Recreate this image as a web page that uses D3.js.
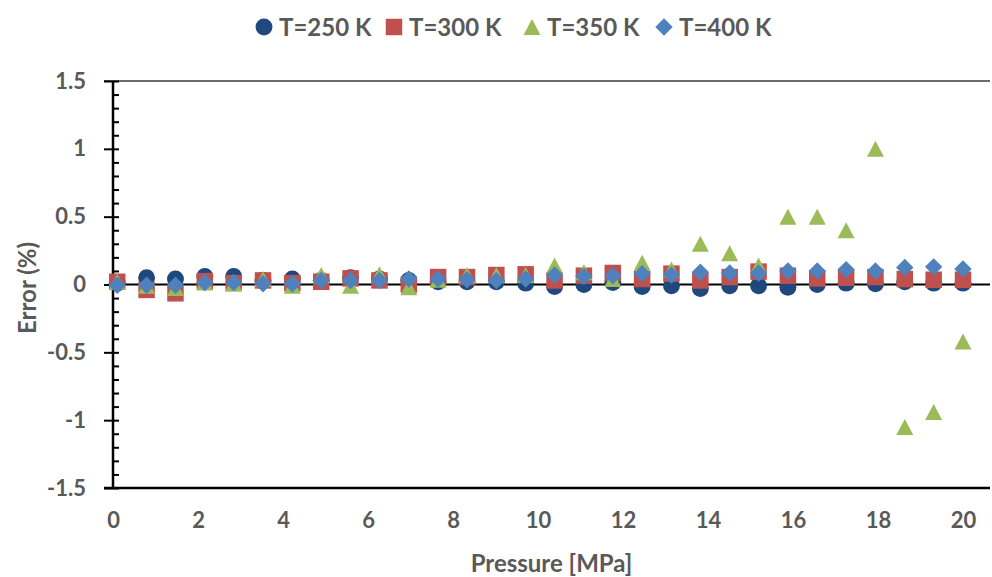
<!DOCTYPE html>
<html lang="en">
<head>
    <meta charset="UTF-8">
    <title>Error vs Pressure</title>
    <script src="https://cdn.jsdelivr.net/npm/d3@7/dist/d3.min.js"></script>
    <style>
        body { margin: 0; background: #fff; }
        text { font-family: Lato, "Open Sans", sans-serif; font-weight: bold; fill: #595959; }
    </style>
</head>
<body>
<div id="chart"></div>
<script>
    // pressure points [MPa]
    var pressure = [0.1, 0.79, 1.47, 2.16, 2.84, 3.53, 4.22, 4.90, 5.59, 6.27,
        6.96, 7.65, 8.33, 9.02, 9.71, 10.39, 11.08, 11.76, 12.45, 13.14,
        13.82, 14.51, 15.19, 15.88, 16.57, 17.25, 17.94, 18.63, 19.31, 20.0];

    // error [%] per temperature
    var err250 = [0.01, 0.05, 0.04, 0.06, 0.06, 0.03, 0.04, 0.03, 0.05, 0.04,
        0.03, 0.02, 0.02, 0.02, 0.01, -0.015, 0.0, 0.015, -0.015, -0.01,
        -0.03, -0.01, -0.01, -0.02, 0.0, 0.01, 0.005, 0.02, 0.01, 0.01];
    var err300 = [0.02, -0.04, -0.065, 0.025, 0.01, 0.03, 0.01, 0.02, 0.045, 0.03,
        0.0, 0.055, 0.055, 0.07, 0.075, 0.03, 0.065, 0.085, 0.04, 0.08,
        0.03, 0.055, 0.095, 0.065, 0.045, 0.05, 0.055, 0.04, 0.035, 0.035];
    var err350 = [0.02, -0.01, -0.025, 0.015, 0.01, 0.04, -0.01, 0.07, -0.01, 0.075,
        -0.02, 0.035, 0.07, 0.07, 0.07, 0.14, 0.09, 0.04, 0.16, 0.11,
        0.30, 0.23, 0.14, 0.50, 0.50, 0.40, 1.0, -1.05, -0.94, -0.42];
    var err400 = [-0.005, -0.005, -0.005, 0.015, 0.015, 0.005, 0.005, 0.03, 0.03, 0.03,
        0.04, 0.04, 0.035, 0.03, 0.04, 0.07, 0.06, 0.065, 0.08, 0.07,
        0.09, 0.085, 0.085, 0.10, 0.10, 0.11, 0.10, 0.125, 0.13, 0.115];

    var seriesNames = ["T=250 K", "T=300 K", "T=350 K", "T=400 K"];
    var xTicks = [0, 2, 4, 6, 8, 10, 12, 14, 16, 18, 20];
    var yTicks = [-1.5, -1, -0.5, 0, 0.5, 1, 1.5];

    var width = 992, height = 577;
    var plotLeft = 113, plotRight = 990, plotTop = 81, plotBottom = 488;

    // custom marker shapes
    var triangle = {
        draw: function (ctx, size) {
            var w = 8.5, h = 8;
            ctx.moveTo(0, -h);
            ctx.lineTo(w, h);
            ctx.lineTo(-w, h);
            ctx.closePath();
        }
    };
    var diamond = {
        draw: function (ctx, size) {
            var r = 8.7;
            ctx.moveTo(0, -r);
            ctx.lineTo(r, 0);
            ctx.lineTo(0, r);
            ctx.lineTo(-r, 0);
            ctx.closePath();
        }
    };

    var series = [
        {name: seriesNames[0], values: err250, color: "#1F497D", symbol: d3.symbol().type(d3.symbolCircle).size(225)},
        {name: seriesNames[1], values: err300, color: "#C0504D", symbol: d3.symbol().type(d3.symbolSquare).size(272)},
        {name: seriesNames[2], values: err350, color: "#9BBB59", symbol: d3.symbol().type(triangle)},
        {name: seriesNames[3], values: err400, color: "#4F81BD", symbol: d3.symbol().type(diamond)}
    ];

    var x = d3.scaleLinear().domain([0, 20]).range([plotLeft, 963]);
    var y = d3.scaleLinear().domain([-1.5, 1.5]).range([plotBottom, plotTop]);

    var svg = d3.select("#chart")
            .append("svg")
            .attr("width", width)
            .attr("height", height);

    // top border
    svg.append("line")
            .attr("x1", 104).attr("x2", plotRight)
            .attr("y1", y(1.5)).attr("y2", y(1.5))
            .attr("stroke", "#3a3a3a").attr("stroke-width", 1.5);

    // bottom line
    svg.append("line")
            .attr("x1", 104).attr("x2", plotRight)
            .attr("y1", y(-1.5)).attr("y2", y(-1.5))
            .attr("stroke", "#000").attr("stroke-width", 2.5);

    // zero line
    svg.append("line")
            .attr("x1", plotLeft).attr("x2", plotRight)
            .attr("y1", y(0)).attr("y2", y(0))
            .attr("stroke", "#000").attr("stroke-width", 2);

    // y axis with minor ticks inside
    var yMinor = svg.append("g")
            .attr("transform", "translate(" + plotLeft + ",0)")
            .call(d3.axisRight(y).ticks(30).tickSize(6).tickFormat(""));
    yMinor.selectAll("line").attr("stroke", "#000").attr("stroke-width", 2);
    yMinor.select(".domain").remove();

    var yAxis = svg.append("g")
            .attr("transform", "translate(" + plotLeft + ",0)")
            .call(d3.axisLeft(y).tickValues(yTicks).tickSize(9)
                    .tickFormat(function (d) { return String(d); }));
    yAxis.select(".domain")
            .attr("d", "M0," + plotTop + "V" + plotBottom)
            .attr("stroke", "#000").attr("stroke-width", 2.5);
    yAxis.selectAll(".tick line").attr("stroke", "#000").attr("stroke-width", 2);
    yAxis.selectAll("text")
            .attr("x", -27)
            .style("font-size", "22px")
            .style("font-family", "Lato, sans-serif")
            .attr("fill", "#595959");

    // x tick labels
    var xAxis = svg.append("g")
            .attr("transform", "translate(0," + plotBottom + ")")
            .call(d3.axisBottom(x).tickValues(xTicks).tickSize(0).tickPadding(24));
    xAxis.select(".domain").remove();
    xAxis.selectAll("text")
            .style("font-size", "22px")
            .style("font-family", "Lato, sans-serif")
            .attr("fill", "#595959");

    // axis titles
    svg.append("text")
            .attr("x", (plotLeft + plotRight) / 2).attr("y", 572)
            .attr("text-anchor", "middle")
            .style("font-size", "24px")
            .text("Pressure [MPa]");

    svg.append("text")
            .attr("transform", "translate(36,288) rotate(-90)")
            .attr("text-anchor", "middle")
            .style("font-size", "24px")
            .text("Error (%)");

    // markers
    series.forEach(function (s) {
        svg.append("g")
                .selectAll("path")
                .data(s.values)
                .enter()
                .append("path")
                .attr("d", s.symbol)
                .attr("fill", s.color)
                .attr("transform", function (d, i) {
                    return "translate(" + x(pressure[i]) + "," + y(d) + ")";
                });
    });

    // legend
    var legendX = [264, 394, 532, 664];
    var legend = svg.append("g").selectAll("g")
            .data(series)
            .enter()
            .append("g")
            .attr("transform", function (d, i) {
                return "translate(" + legendX[i] + ",27)";
            });

    legend.append("path")
            .attr("d", function (d) { return d.symbol(); })
            .attr("fill", function (d) { return d.color; });

    legend.append("text")
            .attr("x", 15)
            .attr("y", 9)
            .style("font-size", "24px")
            .text(function (d) { return d.name; });
</script>
</body>
</html>
